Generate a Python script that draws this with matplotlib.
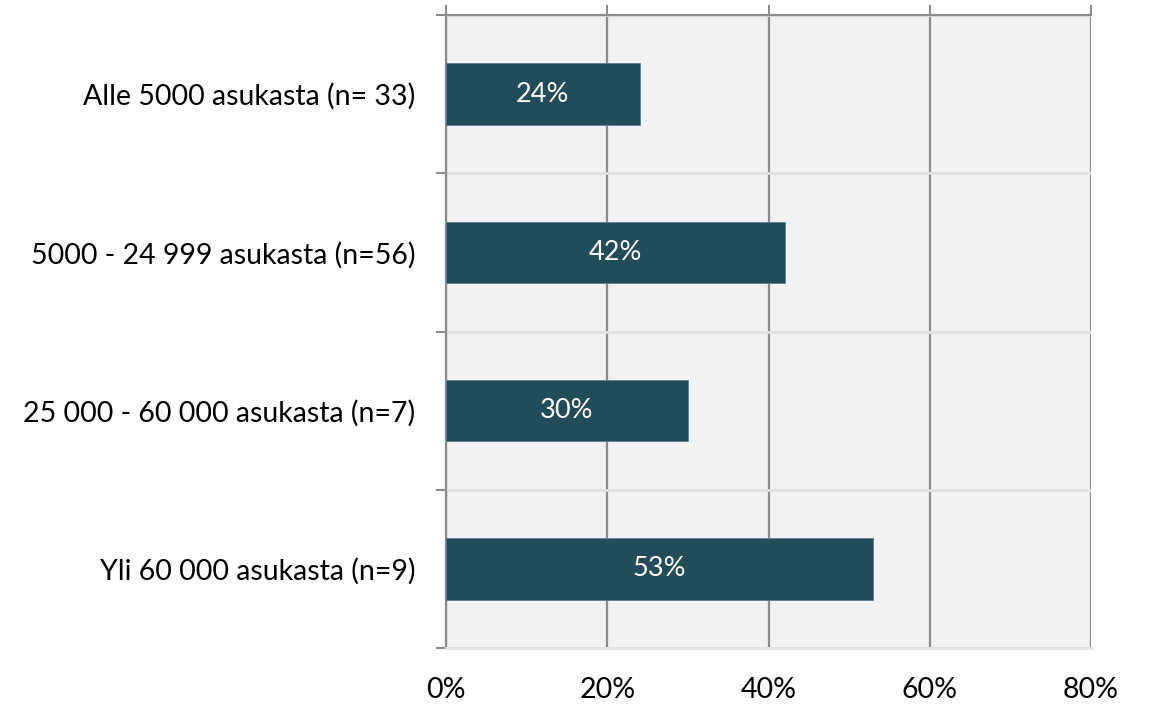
import matplotlib
matplotlib.use("Agg")
import matplotlib.pyplot as plt
import numpy as np

categories = ["Alle 5000 asukasta (n= 33)", "5000 - 24 999 asukasta (n=56)",
              "25 000 - 60 000 asukasta (n=7)", "Yli 60 000 asukasta (n=9)"]
values = [24, 42, 30, 53]
x_ticks = [0, 20, 40, 60, 80]
x_tick_labels = ["0%", "20%", "40%", "60%", "80%"]

plt.rcParams['font.family'] = ['Lato', 'DejaVu Sans']

fig = plt.figure(figsize=(11.5, 7.04), dpi=100)
ax = fig.add_axes([446/1150, 1-648/704, (1091-446)/1150, (648-15)/704])
ax.set_facecolor('#f2f2f2')

y = np.arange(len(categories))
bars = ax.barh(y, values, height=0.39, color='#234c5a', edgecolor='#5f7f8a', linewidth=0.6, zorder=3)
for yi, v in zip(y, values):
    ax.text(v/2, yi, f"{v}%", ha='center', va='center', color='white', fontsize=19.5, zorder=4)

ax.set_xlim(0, 80)
ax.set_ylim(len(categories)-0.5, -0.5)

ax.set_xticks(x_ticks)
ax.set_xticklabels(x_tick_labels, fontsize=20.5)
ax.set_yticks(y)
ax.set_yticklabels(categories, fontsize=20.5)
ax.set_yticks(np.arange(-0.5, len(categories), 1.0), minor=True)

ax.tick_params(axis='x', which='major', top=True, bottom=False, labeltop=False, labelbottom=True,
               direction='out', length=7, width=1.5, color='#8c8c8c', pad=14)
ax.tick_params(axis='y', which='major', length=0, pad=22)
ax.tick_params(axis='y', which='minor', length=7.5, width=1.5, color='#8c8c8c', direction='out')

ax.grid(axis='x', which='major', color='#8c8c8c', linewidth=1.6, zorder=1)
ax.grid(axis='y', which='minor', color='#e2e2e2', linewidth=2, zorder=1)
ax.set_axisbelow(True)

ax.spines['right'].set_visible(False)
ax.spines['top'].set_color('#8c8c8c')
ax.spines['top'].set_linewidth(1.6)
ax.spines['left'].set_color('#8c8c8c')
ax.spines['left'].set_linewidth(1.6)
ax.spines['bottom'].set_color('#e2e2e2')
ax.spines['bottom'].set_linewidth(2)

fig.savefig("out.png", dpi=100)
